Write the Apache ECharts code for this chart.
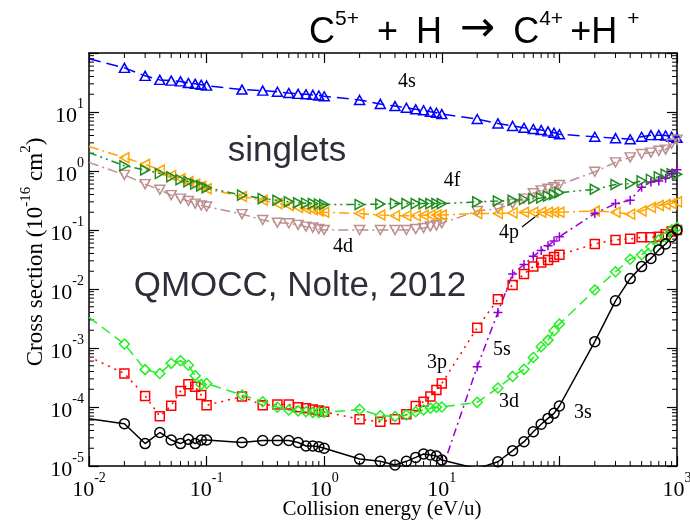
<!DOCTYPE html>
<html>
<head>
<meta charset="utf-8">
<script src="https://cdn.jsdelivr.net/npm/echarts@6/dist/echarts.min.js"></script>
<style>
html, body { margin: 0; padding: 0; background: #fff; }
#chart { width: 690px; height: 522px; }
</style>
</head>
<body>
<div id="chart"></div>
<script>
// collision energy (eV/u), same grid for every curve
const energy = [
  0.01,
  0.02, 0.03, 0.04, 0.05, 0.06, 0.07, 0.08, 0.09, 0.1,
  0.2, 0.3, 0.4, 0.5, 0.6, 0.7, 0.8, 0.9, 1,
  2, 3, 4, 5, 6, 7, 8, 9, 10,
  20, 30, 40, 50, 60, 70, 80, 90, 100,
  200, 300, 400, 500, 600, 700, 800, 900, 1000
]

// cross sections (10^-16 cm^2)
const cs4s = [
  80,
  56, 41, 35, 34, 33, 31, 30, 29, 28,
  24, 23, 22, 21, 20.3, 20, 19.5, 19, 18.5,
  16, 13.7, 12.6, 11.8, 11.1, 10.7, 10.1, 9.7, 9.2,
  7.6, 6.4, 5.8, 5.4, 5.15, 4.95, 4.7, 4.45, 4.2,
  3.8, 3.6, 3.45, 3.8, 4.05, 4.05, 4.0, 3.8, 3.65
]
const cs4f = [
  2.05,
  1.23, 1.04, 0.91, 0.80, 0.71, 0.66, 0.60, 0.56, 0.52,
  0.39, 0.34, 0.32, 0.30, 0.29, 0.285, 0.28, 0.275, 0.27,
  0.27, 0.275, 0.28, 0.28, 0.28, 0.28, 0.28, 0.28, 0.28,
  0.30, 0.31, 0.32, 0.33, 0.34, 0.35, 0.375, 0.40, 0.43,
  0.49, 0.59, 0.61, 0.68, 0.72, 0.8, 0.88, 0.9, 0.88
]
const cs4p = [
  2.6,
  1.68, 1.3, 1.04, 0.84, 0.74, 0.66, 0.6, 0.55, 0.5,
  0.37, 0.32, 0.28, 0.26, 0.24, 0.23, 0.22, 0.21, 0.2,
  0.19, 0.18, 0.175, 0.175, 0.175, 0.178, 0.18, 0.18, 0.18,
  0.19, 0.19, 0.195, 0.2, 0.2, 0.2, 0.2, 0.2, 0.2,
  0.21, 0.2, 0.185, 0.21, 0.24, 0.26, 0.27, 0.28, 0.3
]
const cs4d = [
  1.4,
  0.86, 0.6, 0.48, 0.39, 0.34, 0.31, 0.28, 0.26, 0.25,
  0.186, 0.148, 0.133, 0.13, 0.122, 0.114, 0.11, 0.104, 0.1,
  0.1, 0.1, 0.1, 0.1, 0.104, 0.108, 0.115, 0.12, 0.13,
  0.21, 0.23, 0.28, 0.34, 0.42, 0.47, 0.5, 0.53, 0.58,
  0.97, 1.4, 1.7, 1.94, 2.05, 2.2, 2.3, 2.9, 3.4
]
const cs5s = [
  null,
  null, null, null, null, null, null, null, null, null,
  null, null, null, null, null, null, null, null, null,
  null, null, null, null, null, null, null, null, 8.5e-6,
  4.8e-4, 4.0e-3, 0.018, 0.026, 0.036, 0.045, 0.054, 0.065, 0.077,
  0.19, 0.28, 0.32, 0.53, 0.65, 0.68, 0.75, 0.92, 1.05
]
const cs3p = [
  7.1e-4,
  3.7e-4, 1.54e-4, 7.0e-5, 1.05e-4, 1.86e-4, 2.43e-4, 2.2e-4, 1.6e-4, 1.07e-4,
  1.5e-4, 1.07e-4, 1.1e-4, 1.1e-4, 9.9e-5, 9.5e-5, 9.1e-5, 8.7e-5, 8.3e-5,
  6.2e-5, 5.6e-5, 6.2e-5, 7.5e-5, 1.04e-4, 1.23e-4, 1.5e-4, 1.95e-4, 2.5e-4,
  2.2e-3, 6.7e-3, 0.0117, 0.018, 0.024, 0.028, 0.031, 0.035, 0.038,
  0.058, 0.068, 0.071, 0.075, 0.075, 0.077, 0.085, 0.094, 0.1
]
const cs3d = [
  3.3e-3,
  1.17e-3, 4.3e-4, 3.7e-4, 5.5e-4, 6.1e-4, 5.1e-4, 3.4e-4, 2.4e-4, 2.5e-4,
  1.6e-4, 1.23e-4, 9.9e-5, 8.9e-5, 8.6e-5, 8.3e-5, 8.1e-5, 8.1e-5, 8.1e-5,
  9.1e-5, 7.1e-5, 6.9e-5, 7.3e-5, 8.3e-5, 8.9e-5, 9.5e-5, 9.9e-5, 1.0e-4,
  1.2e-4, 2.1e-4, 3.3e-4, 4.35e-4, 6.9e-4, 1.05e-3, 1.36e-3, 1.96e-3, 2.55e-3,
  9.6e-3, 0.0196, 0.032, 0.038, 0.052, 0.068, 0.077, 0.1, 0.11
]
const cs3s = [
  6.3e-5,
  5.2e-5, 2.4e-5, 3.7e-5, 2.76e-5, 2.4e-5, 2.83e-5, 2.4e-5, 2.76e-5, 2.76e-5,
  2.5e-5, 2.7e-5, 2.7e-5, 2.7e-5, 2.5e-5, 2.18e-5, 2.18e-5, 2.12e-5, 2.0e-5,
  1.31e-5, 1.2e-5, 1.04e-5, 1.2e-5, 1.4e-5, 1.6e-5, 1.54e-5, 1.48e-5, 1.26e-5,
  9e-6, 1.18e-5, 1.82e-5, 2.58e-5, 3.8e-5, 5.1e-5, 6.4e-5, 7.8e-5, 1.04e-4,
  1.28e-3, 6.3e-3, 0.015, 0.024, 0.033, 0.046, 0.058, 0.077, 0.1
]

const X_MIN = 0.01, X_MAX = 1000
const Y_MIN = 1e-5, Y_MAX = 100

// minor tick positions (2..9 x 10^k)
const xMinor = []
for (let d = -2; d < 3; d++) for (let m = 2; m < 10; m++) xMinor.push(m * Math.pow(10, d))
const yMinor = []
for (let d = -5; d < 2; d++) for (let m = 2; m < 10; m++) yMinor.push(m * Math.pow(10, d))

const serif = 'Liberation Serif'
const sans = 'Liberation Sans'

const plus = 'path://M5,0L5,10M0,5L10,5'

// one curve
const makeSeries = (name, values, color, dash, symbol, size, rotate) => {
  const data = []
  values.forEach((v, i) => {
    if (v == null) return
    const item = { value: [energy[i], v] }
    if (i === 0) item.symbol = 'none'
    data.push(item)
  })
  return {
    name,
    type: 'line',
    data,
    symbol,
    symbolSize: size,
    symbolRotate: rotate,
    showAllSymbol: true,
    clip: true,
    lineStyle: { color, width: 1.5, type: dash },
    itemStyle: { color: 'rgba(0,0,0,0)', borderColor: color, borderWidth: 1.5 },
    emphasis: { disabled: true }
  }
}

// 10^n tick labels, top one (10^2) is not labelled in the figure
const tickLabel = (v) => {
  const e = Math.round(Math.log10(v))
  if (e === 2) return ''
  return '{b|10}{s|' + e + '}'
}
const labelRich = {
  b: { fontFamily: serif, fontSize: 22, lineHeight: 30, color: '#000', verticalAlign: 'bottom' },
  s: { fontFamily: serif, fontSize: 14, lineHeight: 14, color: '#000', verticalAlign: 'top' }
}

const logAxis = (pos, min, max, split, showLabel) => ({
  type: 'log',
  logBase: 10,
  position: pos,
  min, max,
  splitNumber: split,
  axisLine: { show: true, lineStyle: { color: '#000', width: 1.5 } },
  axisTick: { show: true, inside: true, length: 10, lineStyle: { color: '#000', width: 1.2 } },
  axisLabel: { show: showLabel, formatter: tickLabel, rich: labelRich, margin: 5 },
  splitLine: { show: false },
  minorTick: { show: false },
  minorSplitLine: { show: false }
})

// minor ticks on all four sides
const minorTicks = {
  type: 'custom',
  silent: true,
  clip: false,
  data: [[1, 1]],
  renderItem: (params, api) => {
    const children = []
    const left = api.coord([X_MIN, 1])[0]
    const right = api.coord([X_MAX, 1])[0]
    const top = api.coord([1, Y_MAX])[1]
    const bottom = api.coord([1, Y_MIN])[1]
    const seg = (x1, y1, x2, y2) => ({
      type: 'line',
      shape: { x1, y1, x2, y2 },
      style: { stroke: '#000', lineWidth: 1 }
    })
    xMinor.forEach(v => {
      const x = api.coord([v, 1])[0]
      children.push(seg(x, bottom, x, bottom - 5))
      children.push(seg(x, top, x, top + 5))
    })
    yMinor.forEach(v => {
      const y = api.coord([1, v])[1]
      children.push(seg(left, y, left + 5, y))
      children.push(seg(right, y, right - 5, y))
    })
    return { type: 'group', children }
  }
}

const curveLabel = (text, x, y) => ({
  type: 'text', x, y,
  style: { text, fontFamily: serif, fontSize: 20, fill: '#000', align: 'center', verticalAlign: 'middle' }
})

const chart = echarts.init(document.getElementById('chart'))
chart.setOption({
  animation: false,
  backgroundColor: '#fff',
  grid: { left: 89, right: 13, top: 53, bottom: 56, containLabel: false, outerBoundsMode: 'none' },
  xAxis: [
    logAxis('bottom', X_MIN, X_MAX, 5, true),
    logAxis('top', X_MIN, X_MAX, 5, false)
  ],
  yAxis: [
    logAxis('left', Y_MIN, Y_MAX, 7, true),
    logAxis('right', Y_MIN, Y_MAX, 7, false)
  ],
  series: [
    makeSeries('4s', cs4s, '#0000ff', [12, 6], 'triangle', [10, 9], 0),
    makeSeries('4d', cs4d, '#bc8f8f', [10, 4, 2, 4], 'triangle', [10, 9], 180),
    makeSeries('4p', cs4p, '#ffa500', [10, 4, 2, 4], 'triangle', [10, 9], 90),
    makeSeries('4f', cs4f, '#1e8c1e', [8, 4, 2, 4, 2, 4], 'triangle', [10, 9], -90),
    makeSeries('5s', cs5s, '#9400d3', [8, 4, 2, 4], plus, 9, 0),
    makeSeries('3p', cs3p, '#ff0000', [2, 5], 'rect', 9, 0),
    makeSeries('3d', cs3d, '#22ee22', [10, 6], 'diamond', 10, 0),
    makeSeries('3s', cs3s, '#000000', 'solid', 'circle', 10, 0),
    minorTicks
  ],
  graphic: [
    {
      type: 'text', x: 309, y: 9,
      style: {
        text: '{m|C}{s|5+}{m|\u2002+\u2002H\u2002}{a|\u2192}{m|\u2002C}{s|4+}{m|\u2009+H }{s|+}',
        rich: {
          m: { fontFamily: sans, fontSize: 36, lineHeight: 42, fill: '#000', verticalAlign: 'bottom' },
          a: { fontFamily: 'DejaVu Sans', fontSize: 42, lineHeight: 30, fill: '#000', verticalAlign: 'bottom' },
          s: { fontFamily: sans, fontSize: 21, lineHeight: 21, fill: '#000', verticalAlign: 'top' }
        }
      }
    },
    {
      type: 'text', x: 287, y: 151,
      style: { text: 'singlets', fontFamily: sans, fontSize: 35, fill: '#2e2e3a', align: 'center', verticalAlign: 'middle' }
    },
    {
      type: 'text', x: 300, y: 286,
      style: { text: 'QMOCC, Nolte, 2012', fontFamily: sans, fontSize: 35, fill: '#2e2e3a', align: 'center', verticalAlign: 'middle' }
    },
    {
      type: 'text', x: 382, y: 509,
      style: { text: 'Collision energy (eV/u)', fontFamily: serif, fontSize: 21, fill: '#000', align: 'center', verticalAlign: 'middle' }
    },
    {
      type: 'text', x: 33, y: 252, rotation: Math.PI / 2,
      style: {
        text: '{m|Cross section (10}{s|-16}{m| cm}{s|2}{m|)}',
        align: 'center', verticalAlign: 'middle',
        rich: {
          m: { fontFamily: serif, fontSize: 23, lineHeight: 29, fill: '#000', verticalAlign: 'bottom' },
          s: { fontFamily: serif, fontSize: 15, lineHeight: 15, fill: '#000', verticalAlign: 'top' }
        }
      }
    },
    curveLabel('4s', 407, 82),
    curveLabel('4f', 452, 181),
    curveLabel('4d', 343, 247),
    curveLabel('4p', 509, 233),
    curveLabel('3p', 437, 363),
    curveLabel('5s', 502, 350),
    curveLabel('3d', 509, 402),
    curveLabel('3s', 583, 413),
    {
      type: 'line',
      shape: { x1: 522, y1: 227, x2: 540, y2: 213 },
      style: { stroke: '#000', lineWidth: 1.2 }
    }
  ]
})
</script>
</body>
</html>
